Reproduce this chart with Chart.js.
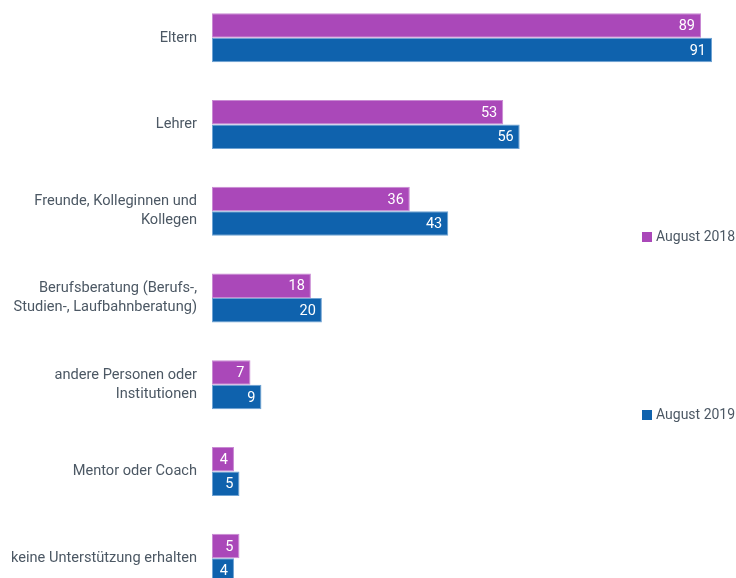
<!DOCTYPE html>
<html lang="de">
<head>
<meta charset="utf-8">
<title>Unterstützung bei der Berufswahl</title>
<script src="https://cdn.jsdelivr.net/npm/chart.js@4/dist/chart.umd.min.js"></script>
<style>
    html, body { margin: 0; padding: 0; background: #fff; overflow: hidden; }
    #wrap { position: absolute; left: 0; top: -30px; width: 736px; height: 656px; }
</style>
</head>
<body>
<div id="wrap"><canvas id="chart"></canvas></div>
<script>
(function () {

    "use strict";

    // Kategorien (mehrzeilige Beschriftungen als Arrays)
    var categories = [
        'Eltern',
        'Lehrer',
        ['Freunde, Kolleginnen und', 'Kollegen'],
        ['Berufsberatung (Berufs-,', 'Studien-, Laufbahnberatung)'],
        ['andere Personen oder', 'Institutionen'],
        'Mentor oder Coach',
        'keine Unterstützung erhalten'
    ];

    var seriesNames = ['August 2018', 'August 2019'];
    var values2018 = [89, 53, 36, 18, 7, 4, 5];
    var values2019 = [91, 56, 43, 20, 9, 5, 4];

    var colors = ['#aa48b9', '#0f62ad'];
    var borders = ['#c98ad3', '#6fa3d3'];
    var textColor = '#4c5864';
    var fontFamily = 'Roboto, "DejaVu Sans", sans-serif';

    // Werte weiss und rechtsbuendig ans Balkenende schreiben
    var valueLabels = {
        id: 'valueLabels',
        afterDatasetsDraw: function (chart) {
            var ctx = chart.ctx;
            ctx.save();
            ctx.font = '14.5px ' + fontFamily;
            ctx.fillStyle = '#ffffff';
            ctx.textAlign = 'right';
            ctx.textBaseline = 'middle';
            chart.data.datasets.forEach(function (ds, i) {
                chart.getDatasetMeta(i).data.forEach(function (bar, j) {
                    ctx.fillText(String(ds.data[j]), bar.x - 6, bar.y + 1);
                });
            });
            ctx.restore();
        }
    };

    // Legende rechts, die Eintraege weit auseinander
    var sideLegend = {
        id: 'sideLegend',
        afterDraw: function (chart) {
            var ctx = chart.ctx;
            var ys = [267, 445];
            ctx.save();
            ctx.font = '14px ' + fontFamily;
            ctx.textAlign = 'left';
            ctx.textBaseline = 'middle';
            chart.data.datasets.forEach(function (ds, i) {
                ctx.fillStyle = ds.backgroundColor;
                ctx.fillRect(642, ys[i] - 5, 10, 10);
                ctx.fillStyle = textColor;
                ctx.fillText(ds.label, 656, ys[i]);
            });
            ctx.restore();
        }
    };

    new Chart(document.getElementById('chart'), {
        type: 'bar',
        data: {
            labels: categories,
            datasets: [{
                label: seriesNames[0],
                data: values2018,
                backgroundColor: colors[0],
                borderColor: borders[0],
                borderWidth: 1,
                borderSkipped: false
            }, {
                label: seriesNames[1],
                data: values2019,
                backgroundColor: colors[1],
                borderColor: borders[1],
                borderWidth: 1,
                borderSkipped: false
            }]
        },
        options: {
            indexAxis: 'y',
            responsive: true,
            maintainAspectRatio: false,
            animation: false,
            datasets: {
                bar: { barPercentage: 1, categoryPercentage: 0.565 }
            },
            layout: { padding: { left: 0, right: 24, top: 0, bottom: 0 } },
            plugins: {
                legend: { display: false },
                tooltip: { enabled: false }
            },
            scales: {
                x: {
                    min: 0,
                    max: 91,
                    display: false
                },
                y: {
                    grid: { display: false, drawTicks: false },
                    border: { display: false },
                    afterFit: function (scale) { scale.width = 212; },
                    ticks: {
                        color: textColor,
                        padding: 15,
                        font: { family: fontFamily, size: 14.6, lineHeight: 1.3 }
                    }
                }
            }
        },
        plugins: [valueLabels, sideLegend]
    });

})();
</script>
</body>
</html>
